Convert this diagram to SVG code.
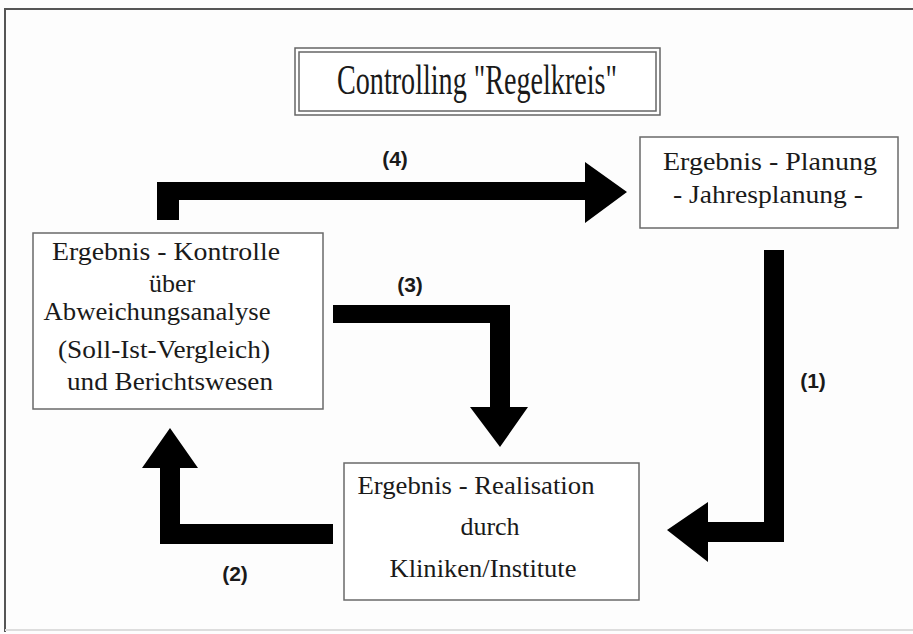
<svg xmlns="http://www.w3.org/2000/svg" width="913" height="634" viewBox="0 0 913 634">
<style>
.box{fill:#fff;stroke:#6a6a6a;stroke-width:1.5}
.t{font-family:"Liberation Serif","Times New Roman",serif;font-size:26px;fill:#1a1a1a;text-anchor:middle}
.lbl{font-family:"Liberation Sans",Arial,sans-serif;font-weight:bold;font-size:21px;fill:#1a1a1a;text-anchor:middle}
.arr{fill:#000}
</style>
<rect x="0" y="0" width="913" height="634" fill="#fdfdfd"/>
<polyline points="913,9 5,9 5,632" fill="none" stroke="#555" stroke-width="2"/>
<line x1="5" y1="630" x2="913" y2="630" stroke="#ddd" stroke-width="2"/>
<g id="title">
<rect x="295" y="48" width="365" height="67" fill="#fff" stroke="#666" stroke-width="1.5"/>
<rect x="299" y="52" width="357" height="59" fill="none" stroke="#666" stroke-width="1.5"/>
<text x="477" y="94" font-family="Liberation Serif,'Times New Roman',serif" font-size="42" fill="#1a1a1a" text-anchor="middle" textLength="280" lengthAdjust="spacingAndGlyphs">Controlling "Regelkreis"</text>
</g>
<g id="connectors">
<path class="arr" d="M157,182 H585 V162 L627,192 L585,223 V200 H179 V220 H157 Z"/>
<path class="arr" d="M764,250 H784 V542 H708 V562 L667,530 L708,502 V522 H764 Z"/>
<path class="arr" d="M333,524 H180 V468 H198 L170,428 L142,468 H160 V544 H333 Z"/>
<path class="arr" d="M333,305 H510 V407 H528 L500,447 L470,407 H490 V323 H333 Z"/>
<text class="lbl" x="395" y="166">(4)</text>
<text class="lbl" x="813" y="388">(1)</text>
<text class="lbl" x="235" y="581">(2)</text>
<text class="lbl" x="410" y="292">(3)</text>
</g>
<g id="kontrolle">
<rect class="box" x="33" y="233" width="290" height="176"/>
<text class="t" x="166" y="260" textLength="228" lengthAdjust="spacingAndGlyphs">Ergebnis - Kontrolle</text>
<text class="t" x="172" y="292">über</text>
<text class="t" x="157" y="320" textLength="227" lengthAdjust="spacingAndGlyphs">Abweichungsanalyse</text>
<text class="t" x="164" y="358" textLength="212" lengthAdjust="spacingAndGlyphs">(Soll-Ist-Vergleich)</text>
<text class="t" x="170" y="390" textLength="206" lengthAdjust="spacingAndGlyphs">und Berichtswesen</text>
</g>
<g id="planung">
<rect class="box" x="640" y="137" width="258" height="91"/>
<text class="t" x="770" y="170" textLength="214" lengthAdjust="spacingAndGlyphs">Ergebnis - Planung</text>
<text class="t" x="768" y="203" textLength="190" lengthAdjust="spacingAndGlyphs">- Jahresplanung -</text>
</g>
<g id="realisation">
<rect class="box" x="344" y="463" width="295" height="137"/>
<text class="t" x="476" y="494" textLength="237" lengthAdjust="spacingAndGlyphs">Ergebnis - Realisation</text>
<text class="t" x="490" y="535">durch</text>
<text class="t" x="483" y="577" textLength="187" lengthAdjust="spacingAndGlyphs">Kliniken/Institute</text>
</g>
</svg>
